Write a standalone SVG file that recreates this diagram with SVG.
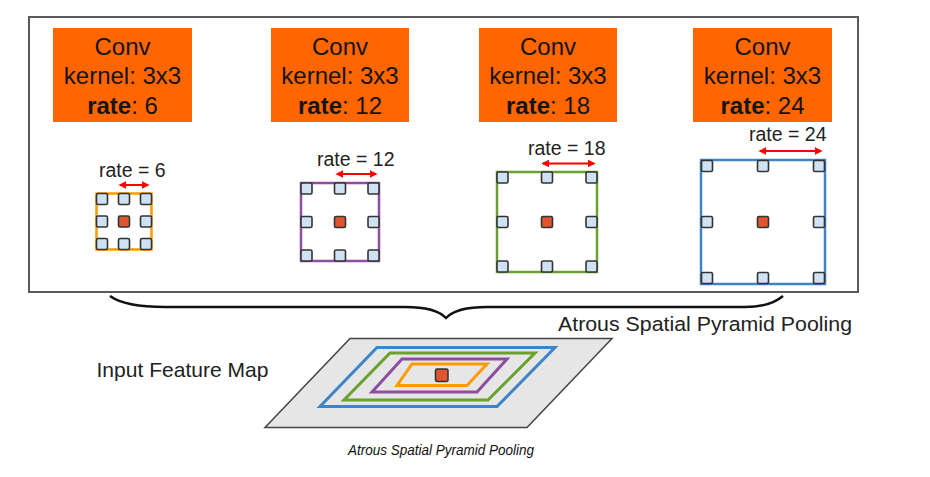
<svg xmlns="http://www.w3.org/2000/svg" width="930" height="477" viewBox="0 0 930 477">
<style>
.box{fill:#ff6600}
.bt{font-family:"Liberation Sans",Arial,sans-serif;font-size:24px;fill:#141414;text-anchor:middle}
.lbl{font-family:"Liberation Sans",Arial,sans-serif;font-size:19.5px;fill:#222}
.cell{fill:#cfe2f3;stroke:#333;stroke-width:1.6}
.ctr{fill:#e0552f;stroke:#333;stroke-width:1.6}
.arr{stroke:#ff0000;stroke-width:2;fill:none;marker-start:url(#ah);marker-end:url(#ah)}
</style>
<defs>
<marker id="ah" viewBox="0 0 10 10" refX="8" refY="5" markerWidth="4" markerHeight="4" orient="auto-start-reverse" markerUnits="strokeWidth">
<path d="M0,0 L10,5 L0,10 z" fill="#ff0000"/>
</marker>
<g id="c3"><rect class="cell" x="-5.5" y="-5.5" width="11" height="11" rx="1.5"/></g>
</defs>
<rect width="930" height="477" fill="#ffffff"/>
<rect id="frame" x="29" y="17" width="829" height="275" fill="none" stroke="#5a5a5a" stroke-width="2"/>

<g id="conv6">
<rect class="box" x="53" y="28" width="139" height="94"/>
<text class="bt" x="122.5" y="55">Conv</text>
<text class="bt" x="122.5" y="84">kernel: 3x3</text>
<text class="bt" x="122.5" y="114"><tspan font-weight="bold">rate</tspan>: 6</text>
</g>
<g id="conv12">
<rect class="box" x="271" y="28" width="138" height="94"/>
<text class="bt" x="340" y="55">Conv</text>
<text class="bt" x="340" y="84">kernel: 3x3</text>
<text class="bt" x="340" y="114"><tspan font-weight="bold">rate</tspan>: 12</text>
</g>
<g id="conv18">
<rect class="box" x="479" y="28" width="138" height="94"/>
<text class="bt" x="548" y="55">Conv</text>
<text class="bt" x="548" y="84">kernel: 3x3</text>
<text class="bt" x="548" y="114"><tspan font-weight="bold">rate</tspan>: 18</text>
</g>
<g id="conv24">
<rect class="box" x="693" y="28" width="139" height="94"/>
<text class="bt" x="762.5" y="55">Conv</text>
<text class="bt" x="762.5" y="84">kernel: 3x3</text>
<text class="bt" x="762.5" y="114"><tspan font-weight="bold">rate</tspan>: 24</text>
</g>

<g id="grid6">
<rect x="96.5" y="193.5" width="55" height="56" fill="none" stroke="#ff9900" stroke-width="2.5"/>
<use href="#c3" x="102" y="199"/><use href="#c3" x="124" y="199"/><use href="#c3" x="146" y="199"/>
<use href="#c3" x="102" y="221.5"/><rect class="ctr" x="118.5" y="216" width="11" height="11" rx="1.5"/><use href="#c3" x="146" y="221.5"/>
<use href="#c3" x="102" y="244"/><use href="#c3" x="124" y="244"/><use href="#c3" x="146" y="244"/>
<text class="lbl" x="99" y="177">rate = 6</text>
<line class="arr" x1="120" y1="185" x2="148" y2="185"/>
</g>
<g id="grid12">
<rect x="301" y="183" width="78" height="78" fill="none" stroke="#8e4d9e" stroke-width="2.5"/>
<use href="#c3" x="306.5" y="188.5"/><use href="#c3" x="340" y="188.5"/><use href="#c3" x="373.5" y="188.5"/>
<use href="#c3" x="306.5" y="222"/><rect class="ctr" x="334.5" y="216.5" width="11" height="11" rx="1.5"/><use href="#c3" x="373.5" y="222"/>
<use href="#c3" x="306.5" y="255.5"/><use href="#c3" x="340" y="255.5"/><use href="#c3" x="373.5" y="255.5"/>
<text class="lbl" x="317" y="166">rate = 12</text>
<line class="arr" x1="337" y1="174" x2="376" y2="174"/>
</g>
<g id="grid18">
<rect x="497" y="172" width="100" height="100" fill="none" stroke="#6aa02e" stroke-width="2.5"/>
<use href="#c3" x="502.5" y="177.5"/><use href="#c3" x="547" y="177.5"/><use href="#c3" x="591.5" y="177.5"/>
<use href="#c3" x="502.5" y="222"/><rect class="ctr" x="541.5" y="216.5" width="11" height="11" rx="1.5"/><use href="#c3" x="591.5" y="222"/>
<use href="#c3" x="502.5" y="266.5"/><use href="#c3" x="547" y="266.5"/><use href="#c3" x="591.5" y="266.5"/>
<text class="lbl" x="528" y="155">rate = 18</text>
<line class="arr" x1="543" y1="163.5" x2="594" y2="163.5"/>
</g>
<g id="grid24">
<rect x="701" y="160" width="124" height="124" fill="none" stroke="#3d85c6" stroke-width="2.5"/>
<use href="#c3" x="707" y="166"/><use href="#c3" x="763" y="166"/><use href="#c3" x="819" y="166"/>
<use href="#c3" x="707" y="222"/><rect class="ctr" x="757.5" y="216.5" width="11" height="11" rx="1.5"/><use href="#c3" x="819" y="222"/>
<use href="#c3" x="707" y="278"/><use href="#c3" x="763" y="278"/><use href="#c3" x="819" y="278"/>
<text class="lbl" x="749" y="141">rate = 24</text>
<line class="arr" x1="760" y1="151" x2="821" y2="151"/>
</g>

<g id="connectors">
<path d="M110,296 Q125,307 165,307 L405,307 Q436,307 446,318 Q456,307 487,307 L745,307 Q770,307 783,296" fill="none" stroke="#111" stroke-width="2.5"/>
</g>
<g id="aspp-label">
<text x="558" y="331" font-family="'Liberation Sans',Arial,sans-serif" font-size="20.5" fill="#222" textLength="294" lengthAdjust="spacingAndGlyphs">Atrous Spatial Pyramid Pooling</text>
</g>

<g id="input-map">
<polygon points="350,338.5 612,338.5 527,427.5 265,427.5" fill="#e6e6e6" stroke="#444" stroke-width="1.5"/>
<polygon points="377,347.5 555,347.5 497,406.5 320,406.5" fill="none" stroke="#3d85c6" stroke-width="3"/>
<polygon points="390,353 535,353 488,400 344,400" fill="none" stroke="#6aa02e" stroke-width="3"/>
<polygon points="402,359 507,359 477,392 372,392" fill="none" stroke="#8e4d9e" stroke-width="3"/>
<polygon points="412,364 487,364 467,385.5 397,385.5" fill="none" stroke="#ff9900" stroke-width="3"/>
<rect x="435.5" y="369" width="12.5" height="12.5" rx="1.5" fill="#e0552f" stroke="#333" stroke-width="1.5"/>
<text x="96.5" y="377" font-family="'Liberation Sans',Arial,sans-serif" font-size="21" fill="#222" textLength="172" lengthAdjust="spacingAndGlyphs">Input Feature Map</text>
</g>

<text x="348" y="455" font-family="'Liberation Sans',Arial,sans-serif" font-size="14.5" font-style="italic" fill="#111" textLength="186" lengthAdjust="spacingAndGlyphs">Atrous Spatial Pyramid Pooling</text>
</svg>
